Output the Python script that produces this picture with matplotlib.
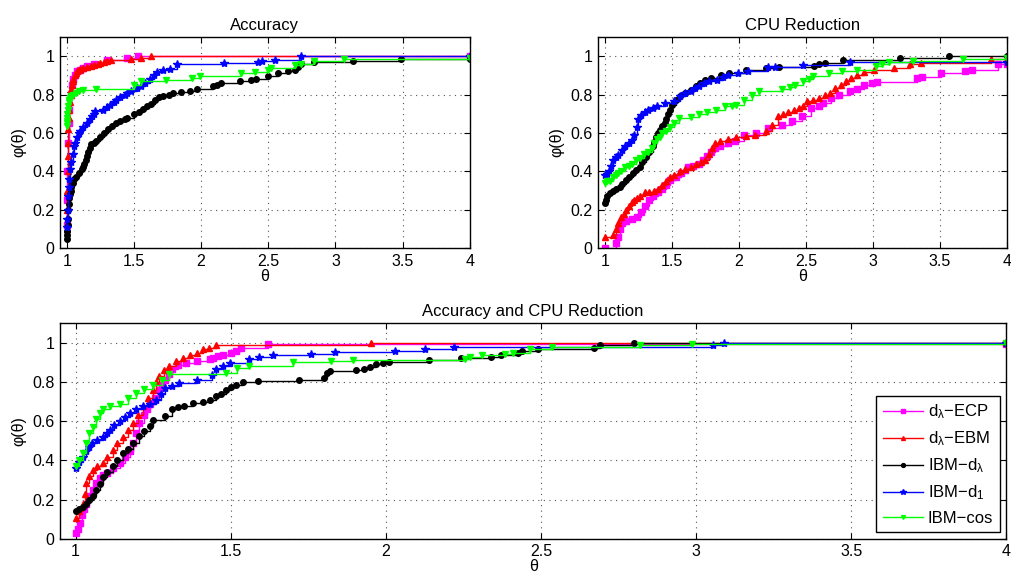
import matplotlib
matplotlib.use('Agg')
from matplotlib import pyplot as plt

plt.rcParams['font.family'] = ['Liberation Sans', 'DejaVu Sans']
plt.rcParams['mathtext.fontset'] = 'custom'
plt.rcParams['mathtext.rm'] = 'Liberation Sans'
plt.rcParams['mathtext.it'] = 'Liberation Sans'

labels = ['d$_{\\lambda}$\u2212ECP', 'd$_{\\lambda}$\u2212EBM', 'IBM\u2212d$_{\\lambda}$',
          'IBM\u2212d$_{1}$', 'IBM\u2212cos']
colors = ['#ff00ff', '#ff0000', '#000000', '#0000ff', '#00ff00']
markers = ['s', '^', 'o', '*', 'v']

# ---- Accuracy ----
acc_ecp_x = [1.0, 1.002, 1.005, 1.01, 1.015, 1.02, 1.03, 1.04, 1.05, 1.06, 1.08, 1.10, 1.12, 1.15,
             1.2, 1.3, 1.45, 1.53, 4.0]
acc_ecp_y = [0.12, 0.25, 0.4, 0.55, 0.65, 0.72, 0.8, 0.85, 0.88, 0.9, 0.92, 0.93, 0.94, 0.95,
             0.96, 0.98, 0.99, 1.0, 1.0]
acc_ebm_x = [1.0, 1.002, 1.004, 1.006, 1.008, 1.01, 1.013, 1.016, 1.02, 1.025, 1.03, 1.035, 1.04,
             1.045, 1.05, 1.06, 1.07, 1.08, 1.09, 1.1, 1.12, 1.15, 1.18, 1.2, 1.23, 1.25, 1.28, 1.3,
             1.33, 1.48, 1.55, 1.63, 4.0]
acc_ebm_y = [0.1, 0.2, 0.3, 0.4, 0.48, 0.55, 0.62, 0.68, 0.72, 0.76, 0.8, 0.83, 0.85, 0.87, 0.88,
             0.9, 0.91, 0.92, 0.93, 0.935, 0.94, 0.945, 0.95, 0.955, 0.96, 0.965, 0.97, 0.975, 0.98,
             0.985, 0.99, 1.0, 1.0]
acc_dl_x = [1.0, 1.002, 1.004, 1.006, 1.008, 1.01, 1.015, 1.02, 1.025, 1.03, 1.035, 1.045, 1.055,
            1.07, 1.09, 1.11, 1.12, 1.13, 1.14, 1.15, 1.16, 1.17, 1.18, 1.2, 1.22, 1.25, 1.28, 1.31,
            1.34, 1.37, 1.4, 1.43, 1.45, 1.5, 1.54, 1.57, 1.6, 1.63, 1.66, 1.69, 1.72, 1.76, 1.79,
            1.85, 1.92, 1.97, 2.09, 2.12, 2.15, 2.29, 2.37, 2.41, 2.5, 2.57, 2.65, 2.7, 2.72, 2.74,
            2.84, 3.13, 3.49, 4.0]
acc_dl_y = [0.05, 0.07, 0.09, 0.12, 0.15, 0.2, 0.23, 0.26, 0.28, 0.3, 0.32, 0.34, 0.36, 0.37, 0.39,
            0.41, 0.425, 0.44, 0.46, 0.48, 0.5, 0.52, 0.54, 0.55, 0.56, 0.58, 0.6, 0.62, 0.635, 0.65,
            0.66, 0.67, 0.68, 0.7, 0.71, 0.725, 0.74, 0.75, 0.77, 0.785, 0.79, 0.8, 0.81, 0.815,
            0.817, 0.83, 0.843, 0.85, 0.86, 0.87, 0.875, 0.88, 0.895, 0.91, 0.92, 0.93, 0.945, 0.96,
            0.97, 0.975, 0.985, 0.985]
acc_d1_x = [1.0, 1.003, 1.006, 1.01, 1.015, 1.02, 1.027, 1.035, 1.045, 1.055, 1.065, 1.08, 1.09,
            1.1, 1.12, 1.15, 1.17, 1.19, 1.2, 1.21, 1.27, 1.3, 1.32, 1.35, 1.37, 1.4, 1.43, 1.45,
            1.48, 1.52, 1.55, 1.58, 1.62, 1.65, 1.67, 1.72, 1.77, 1.82, 2.17, 2.42, 2.45, 2.55,
            2.74, 4.0]
acc_d1_y = [0.11, 0.15, 0.2, 0.27, 0.32, 0.36, 0.41, 0.45, 0.49, 0.53, 0.55, 0.58, 0.6, 0.61, 0.63,
            0.65, 0.67, 0.69, 0.7, 0.715, 0.72, 0.735, 0.748, 0.76, 0.77, 0.785, 0.8, 0.81, 0.82,
            0.835, 0.843, 0.86, 0.88, 0.9, 0.915, 0.93, 0.935, 0.957, 0.965, 0.97, 0.975, 0.98,
            1.0, 1.0]
acc_cos_x = [1.0, 1.001, 1.002, 1.003, 1.005, 1.008, 1.01, 1.015, 1.02, 1.025, 1.035, 1.05, 1.07,
             1.09, 1.12, 1.22, 1.5, 1.55, 1.74, 1.93, 1.99, 2.3, 2.4, 2.5, 2.52, 2.7, 2.74, 2.84,
             3.06, 4.0]
acc_cos_y = [0.634, 0.65, 0.66, 0.68, 0.7, 0.72, 0.74, 0.76, 0.77, 0.78, 0.79, 0.8, 0.81, 0.82,
             0.826, 0.83, 0.852, 0.87, 0.878, 0.887, 0.895, 0.913, 0.917, 0.93, 0.94, 0.955, 0.96,
             0.975, 0.983, 0.99]

# ---- CPU Reduction ----
cpu_ecp_x = [1.0, 1.08, 1.1, 1.11, 1.13, 1.16, 1.2, 1.24, 1.27, 1.3, 1.33, 1.36, 1.4, 1.43, 1.46,
             1.49, 1.53, 1.57, 1.62, 1.66, 1.7, 1.73, 1.76, 1.79, 1.82, 1.86, 1.92, 1.97, 2.04, 2.13,
             2.22, 2.32, 2.4, 2.47, 2.54, 2.6, 2.63, 2.69, 2.75, 2.83, 2.88, 2.93, 2.99, 3.03, 3.33,
             3.37, 3.51, 3.69, 3.74, 3.93, 4.0]
cpu_ecp_y = [0.0, 0.026, 0.06, 0.1, 0.13, 0.14, 0.15, 0.164, 0.19, 0.22, 0.25, 0.27, 0.29, 0.31,
             0.33, 0.355, 0.37, 0.39, 0.425, 0.43, 0.44, 0.46, 0.48, 0.5, 0.52, 0.53, 0.55, 0.557,
             0.587, 0.6, 0.625, 0.643, 0.66, 0.686, 0.73, 0.74, 0.755, 0.782, 0.8, 0.82, 0.83, 0.85,
             0.86, 0.865, 0.885, 0.89, 0.913, 0.92, 0.93, 0.957, 0.957]
cpu_ebm_x = [1.0, 1.06, 1.08, 1.1, 1.12, 1.14, 1.16, 1.18, 1.2, 1.22, 1.24, 1.26, 1.3, 1.33, 1.37,
             1.4, 1.43, 1.46, 1.49, 1.52, 1.56, 1.6, 1.64, 1.68, 1.72, 1.75, 1.78, 1.8, 1.82, 1.86,
             1.92, 1.98, 2.05, 2.12, 2.2, 2.25, 2.29, 2.33, 2.37, 2.41, 2.45, 2.48, 2.51, 2.55, 2.6,
             2.64, 2.68, 2.72, 2.76, 2.8, 2.84, 2.88, 2.93, 3.01, 3.16, 3.28, 3.36, 3.88, 4.0]
cpu_ebm_y = [0.06, 0.07, 0.1, 0.13, 0.16, 0.18, 0.2, 0.22, 0.24, 0.25, 0.26, 0.27, 0.29, 0.29, 0.3,
             0.31, 0.33, 0.35, 0.37, 0.38, 0.4, 0.41, 0.42, 0.44, 0.45, 0.46, 0.49, 0.52, 0.55,
             0.56, 0.57, 0.58, 0.585, 0.59, 0.61, 0.64, 0.686, 0.7, 0.71, 0.72, 0.73, 0.74, 0.765,
             0.77, 0.78, 0.8, 0.81, 0.835, 0.85, 0.87, 0.887, 0.9, 0.917, 0.93, 0.94, 0.957, 0.965,
             0.985, 0.985]
cpu_dl_x = [1.0, 1.01, 1.02, 1.04, 1.06, 1.08, 1.11, 1.13, 1.16, 1.18, 1.21, 1.23, 1.26, 1.28,
            1.31, 1.33, 1.36, 1.37, 1.38, 1.4, 1.41, 1.43, 1.45, 1.46, 1.47, 1.49, 1.5, 1.53, 1.56,
            1.6, 1.64, 1.68, 1.71, 1.75, 1.79, 1.87, 1.93, 2.05, 2.2, 2.3, 2.56, 2.6, 2.64, 2.78,
            3.2, 3.57, 4.0]
cpu_dl_y = [0.233, 0.25, 0.27, 0.285, 0.3, 0.31, 0.32, 0.335, 0.355, 0.37, 0.39, 0.405, 0.425,
            0.45, 0.477, 0.5, 0.53, 0.555, 0.58, 0.6, 0.617, 0.635, 0.65, 0.675, 0.7, 0.72, 0.748,
            0.77, 0.79, 0.81, 0.826, 0.845, 0.86, 0.875, 0.887, 0.904, 0.913, 0.93, 0.94, 0.942,
            0.948, 0.96, 0.965, 0.98, 0.99, 1.0, 1.0]
cpu_d1_x = [1.0, 1.02, 1.03, 1.05, 1.06, 1.08, 1.1, 1.13, 1.15, 1.18, 1.2, 1.22, 1.24, 1.25, 1.27,
            1.3, 1.32, 1.36, 1.39, 1.45, 1.52, 1.56, 1.6, 1.64, 1.67, 1.7, 1.74, 1.78, 1.84, 1.88,
            1.92, 1.99, 2.07, 2.22, 2.27, 2.48, 2.83, 4.0]
cpu_d1_y = [0.38, 0.385, 0.4, 0.43, 0.46, 0.475, 0.486, 0.51, 0.53, 0.55, 0.565, 0.59, 0.63, 0.67,
            0.695, 0.71, 0.72, 0.73, 0.74, 0.755, 0.765, 0.79, 0.81, 0.82, 0.835, 0.845, 0.86,
            0.87, 0.878, 0.89, 0.904, 0.91, 0.925, 0.943, 0.945, 0.955, 0.97, 0.97]
cpu_cos_x = [1.0, 1.02, 1.04, 1.06, 1.08, 1.1, 1.12, 1.15, 1.18, 1.2, 1.23, 1.26, 1.29, 1.32, 1.35,
             1.37, 1.39, 1.41, 1.43, 1.46, 1.49, 1.52, 1.55, 1.64, 1.7, 1.76, 1.83, 1.9, 1.95, 1.98,
             2.04, 2.1, 2.15, 2.32, 2.38, 2.42, 2.48, 2.52, 2.55, 2.67, 2.77, 2.88, 3.02, 3.07,
             3.12, 3.3, 3.67, 4.0]
cpu_cos_y = [0.338, 0.35, 0.35, 0.37, 0.38, 0.39, 0.4, 0.42, 0.43, 0.44, 0.46, 0.47, 0.49, 0.5,
             0.52, 0.55, 0.57, 0.58, 0.6, 0.61, 0.63, 0.65, 0.68, 0.685, 0.7, 0.71, 0.72, 0.74,
             0.74, 0.747, 0.774, 0.8, 0.817, 0.83, 0.84, 0.852, 0.87, 0.88, 0.895, 0.91, 0.92,
             0.93, 0.948, 0.96, 0.97, 0.975, 0.985, 0.99]

# ---- Accuracy and CPU Reduction ----
both_ecp_x = [1.0, 1.007, 1.013, 1.02, 1.027, 1.035, 1.045, 1.055, 1.067, 1.08, 1.09, 1.1, 1.12,
              1.142, 1.16, 1.175, 1.185, 1.195, 1.206, 1.22, 1.23, 1.24, 1.255, 1.27, 1.28, 1.29,
              1.3, 1.31, 1.33, 1.357, 1.39, 1.432, 1.443, 1.46, 1.475, 1.5, 1.518, 1.535, 1.62,
              4.0]
both_ecp_y = [0.03, 0.05, 0.08, 0.12, 0.15, 0.18, 0.22, 0.25, 0.285, 0.31, 0.325, 0.335, 0.36,
              0.387, 0.42, 0.45, 0.49, 0.54, 0.59, 0.63, 0.66, 0.69, 0.72, 0.76, 0.785, 0.81, 0.84,
              0.864, 0.885, 0.898, 0.905, 0.915, 0.923, 0.93, 0.94, 0.948, 0.957, 0.974, 0.995,
              0.995]
both_ebm_x = [1.0, 1.01, 1.024, 1.03, 1.035, 1.045, 1.056, 1.07, 1.088, 1.1, 1.12, 1.135, 1.153,
              1.17, 1.185, 1.2, 1.217, 1.235, 1.25, 1.26, 1.27, 1.285, 1.3, 1.325, 1.345, 1.368,
              1.39, 1.41, 1.43, 1.454, 1.954, 4.0]
both_ebm_y = [0.105, 0.14, 0.18, 0.23, 0.285, 0.32, 0.35, 0.37, 0.387, 0.42, 0.455, 0.49, 0.52,
              0.555, 0.59, 0.63, 0.676, 0.72, 0.76, 0.8, 0.83, 0.86, 0.88, 0.906, 0.92, 0.94, 0.95,
              0.966, 0.975, 0.99, 1.0, 1.0]
both_dl_x = [1.0, 1.01, 1.024, 1.035, 1.045, 1.055, 1.067, 1.078, 1.088, 1.1, 1.12, 1.135, 1.153,
             1.17, 1.185, 1.206, 1.22, 1.24, 1.25, 1.29, 1.31, 1.33, 1.35, 1.378, 1.41, 1.432,
             1.454, 1.47, 1.486, 1.5, 1.516, 1.54, 1.588, 1.72, 1.8, 1.81, 1.82, 1.905, 1.93, 1.95,
             1.97, 1.99, 2.01, 2.14, 2.244, 2.34, 2.37, 2.427, 2.44, 2.49, 2.67, 2.69, 2.8, 4.0]
both_dl_y = [0.14, 0.15, 0.165, 0.18, 0.2, 0.22, 0.25, 0.28, 0.318, 0.34, 0.37, 0.4, 0.438, 0.46,
             0.49, 0.523, 0.55, 0.574, 0.608, 0.625, 0.66, 0.67, 0.68, 0.693, 0.7, 0.71, 0.727,
             0.74, 0.76, 0.775, 0.787, 0.8, 0.807, 0.81, 0.82, 0.847, 0.855, 0.86, 0.865, 0.875,
             0.89, 0.895, 0.9, 0.911, 0.92, 0.928, 0.935, 0.95, 0.96, 0.966, 0.974, 0.99, 1.0, 1.0]
both_d1_x = [1.0, 1.012, 1.024, 1.035, 1.045, 1.053, 1.07, 1.088, 1.1, 1.11, 1.125, 1.142, 1.158,
             1.174, 1.195, 1.217, 1.24, 1.26, 1.275, 1.29, 1.31, 1.335, 1.39, 1.44, 1.454, 1.475,
             1.497, 1.56, 1.59, 1.636, 1.76, 1.835, 2.03, 2.126, 2.22, 3.055, 3.09, 4.0]
both_d1_y = [0.36, 0.39, 0.42, 0.45, 0.47, 0.49, 0.505, 0.52, 0.54, 0.557, 0.58, 0.6, 0.62, 0.64,
             0.66, 0.676, 0.69, 0.71, 0.74, 0.77, 0.78, 0.795, 0.81, 0.838, 0.864, 0.88, 0.898,
             0.918, 0.925, 0.935, 0.944, 0.952, 0.96, 0.969, 0.98, 0.986, 1.0, 1.0]
both_cos_x = [1.0, 1.012, 1.024, 1.035, 1.045, 1.055, 1.067, 1.078, 1.088, 1.11, 1.142, 1.17,
              1.196, 1.22, 1.25, 1.28, 1.3, 1.486, 1.52, 1.56, 1.7, 1.825, 1.895, 2.255, 2.27,
              2.31, 2.385, 2.41, 2.465, 2.535, 2.82, 2.986, 4.0]
both_cos_y = [0.37, 0.4, 0.44, 0.49, 0.54, 0.57, 0.61, 0.64, 0.66, 0.675, 0.69, 0.72, 0.745, 0.765,
              0.785, 0.81, 0.84, 0.847, 0.87, 0.88, 0.9, 0.906, 0.91, 0.918, 0.925, 0.94, 0.945,
              0.95, 0.97, 0.977, 0.986, 0.993, 1.0]

panels = [
    ('Accuracy', [(acc_ecp_x, acc_ecp_y), (acc_ebm_x, acc_ebm_y), (acc_dl_x, acc_dl_y),
                  (acc_d1_x, acc_d1_y), (acc_cos_x, acc_cos_y)]),
    ('CPU Reduction', [(cpu_ecp_x, cpu_ecp_y), (cpu_ebm_x, cpu_ebm_y), (cpu_dl_x, cpu_dl_y),
                       (cpu_d1_x, cpu_d1_y), (cpu_cos_x, cpu_cos_y)]),
    ('Accuracy and CPU Reduction', [(both_ecp_x, both_ecp_y), (both_ebm_x, both_ebm_y),
                                    (both_dl_x, both_dl_y), (both_d1_x, both_d1_y),
                                    (both_cos_x, both_cos_y)]),
]

fig = plt.figure(figsize=(10.12, 5.77), dpi=100)
rects = [[0.0593, 0.570, 0.405, 0.366],
         [0.591, 0.570, 0.404, 0.366],
         [0.0593, 0.066, 0.935, 0.374]]

for rect, (title, series) in zip(rects, panels):
    ax = fig.add_axes(rect)
    for (x, y), c, m, lab in zip(series, colors, markers, labels):
        ms = 6 if m == '*' else 4
        ax.step(x, y, where='post', color=c, marker=m, markersize=ms, markerfacecolor=c,
                markeredgecolor=c, linewidth=1, label=lab)
    ax.set_xlim(0.95, 4)
    ax.set_ylim(0, 1.1)
    ax.set_xticks([1, 1.5, 2, 2.5, 3, 3.5, 4])
    ax.set_xticklabels(['1', '1.5', '2', '2.5', '3', '3.5', '4'])
    ax.set_yticks([0, 0.2, 0.4, 0.6, 0.8, 1])
    ax.set_yticklabels(['0', '0.2', '0.4', '0.6', '0.8', '1'])
    ax.grid(True, linestyle=(0, (1, 4)), color='#555555', linewidth=0.8)
    ax.tick_params(direction='in', top=True, right=True, labelsize=11.5, length=4, pad=4)
    for s in ax.spines.values():
        s.set_linewidth(1)
    ax.set_title(title, fontsize=12, pad=5)
    ax.set_xlabel('\u03b8', fontsize=11.5, labelpad=0)
    ax.set_ylabel('\u03c6(\u03b8)', fontsize=11.5, labelpad=4)
    if title == 'Accuracy and CPU Reduction':
        leg = ax.legend(loc='lower right', fontsize=12, numpoints=1, handlelength=2.4,
                        handletextpad=0.3, fancybox=False, framealpha=1, edgecolor='black',
                        borderaxespad=0.4, labelspacing=0.5, markerscale=0.7)
        leg.get_frame().set_linewidth(1)

fig.savefig('out.png', dpi=100)
